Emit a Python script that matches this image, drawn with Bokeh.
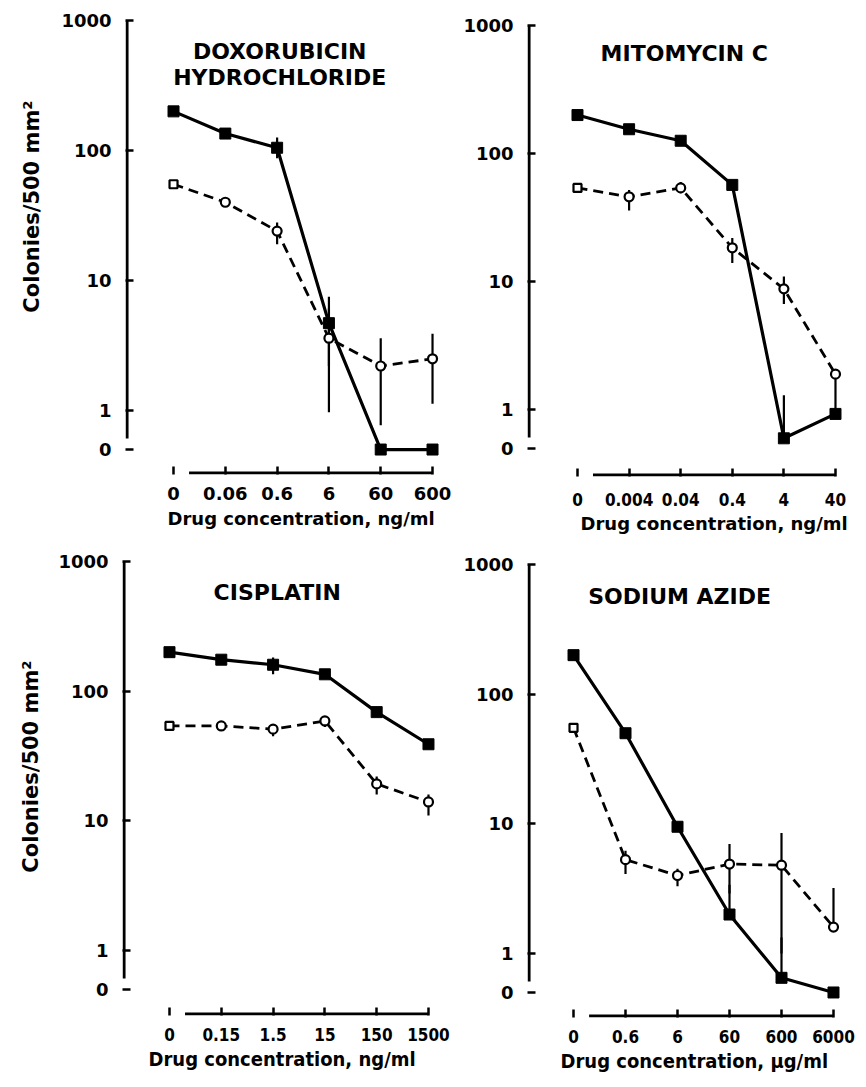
import math
from bokeh.plotting import figure
from bokeh.models import Range1d, FixedTicker, ColumnDataSource, Label, Title
from bokeh.layouts import column, row
from bokeh.embed import file_html
from bokeh.resources import INLINE

# ---------------- data ----------------
y_tick_values = [0, 1, 10, 100, 1000]
y_tick_labels = ["0", "1", "10", "100", "1000"]
y_axis_label = "Colonies/500 mm²"

doxo_title = ["DOXORUBICIN", "HYDROCHLORIDE"]
doxo_conc = ["0", "0.06", "0.6", "6", "60", "600"]
doxo_unit = "Drug concentration, ng/ml"
doxo_solid = [200, 135, 105, 4.7, 0, 0]
doxo_solid_lo = [None, None, 87, 2.2, None, None]
doxo_solid_hi = [None, None, 126, 7.5, None, None]
doxo_open = [55, 40, 24, 3.6, 2.2, 2.5]
doxo_open_lo = [None, None, 19, 0.97, 0.77, 1.13]
doxo_open_hi = [None, None, 28, 6.1, 3.6, 3.9]

mito_title = ["MITOMYCIN C"]
mito_conc = ["0", "0.004", "0.04", "0.4", "4", "40"]
mito_unit = "Drug concentration, ng/ml"
mito_solid = [200, 155, 126, 57, 0.6, 0.93]
mito_solid_lo = [None, None, None, None, 0.6, 0.93]
mito_solid_hi = [None, None, None, None, 1.3, 1.9]
mito_open = [54, 46, 54, 18.4, 8.8, 1.9]
mito_open_lo = [None, 36, 49, 14, 6.7, None]
mito_open_hi = [None, 52, 60, 22, 11, None]

cis_title = ["CISPLATIN"]
cis_conc = ["0", "0.15", "1.5", "15", "150", "1500"]
cis_unit = "Drug concentration, ng/ml"
cis_solid = [200, 175, 160, 135, 69, 39]
cis_solid_lo = [None, 165, 135, None, None, 36]
cis_solid_hi = [None, 188, 182, None, None, 42]
cis_open = [54, 54, 51, 59, 19.3, 14]
cis_open_lo = [None, None, 45, 53, 16, 11]
cis_open_hi = [None, None, 56, 64, 22, 16]

azide_title = ["SODIUM AZIDE"]
azide_conc = ["0", "0.6", "6", "60", "600", "6000"]
azide_unit = "Drug concentration, µg/ml"
azide_solid = [200, 50, 9.5, 2.0, 0.65, 0]
azide_solid_lo = [None, None, None, 2.0, 0.65, None]
azide_solid_hi = [None, None, None, 3.4, 1.33, None]
azide_open = [55, 5.3, 4.0, 4.9, 4.8, 1.6]
azide_open_lo = [None, 4.1, 3.3, 2.9, 1.0, 1.6]
azide_open_hi = [None, 6.2, 4.5, 7.0, 8.5, 3.2]

# ---------------- broken log scale ----------------
ZERO_POS = -0.3     # where a count of 0 sits, below the axis break
BREAK_POS = -0.215  # bottom end of the y-axis line


def pos(v):
    return math.log10(v) if v > 0 else ZERO_POS


FONT = "DejaVu Sans"
COND = "DejaVu Sans Condensed"


def panel(title, conc, unit, solid, s_lo, s_hi, opn, o_lo, o_hi, cfg):
    xr = cfg["xr"]
    yr = cfg["yr"]
    p = figure(width=cfg["w"], height=cfg["h"],
               x_range=Range1d(*xr), y_range=Range1d(*yr),
               output_backend="svg", toolbar_location=None, title_location=None,
               min_border_left=cfg["bl"], min_border_right=cfg["br"],
               min_border_top=cfg["bt"], min_border_bottom=cfg["bb"])
    p.grid.visible = False
    p.outline_line_color = None
    p.background_fill_color = "white"
    p.border_fill_color = "white"

    xs = list(range(len(conc)))

    for ax in (p.xaxis[0], p.yaxis[0]):
        ax.axis_line_color = None
        ax.major_tick_in = 8
        ax.major_tick_out = 0
        ax.major_tick_line_width = 2.5
        ax.major_tick_line_color = "black"
        ax.minor_tick_line_color = None
        ax.major_label_text_color = "black"
        ax.major_label_text_font_style = "bold"

    p.xaxis.ticker = FixedTicker(ticks=xs)
    p.xaxis.major_label_overrides = {i: c for i, c in enumerate(conc)}
    p.xaxis.major_label_text_font = cfg["xfont"]
    p.xaxis.major_label_text_font_size = cfg["xsize"]
    p.xaxis.major_label_standoff = cfg["tstand"]

    yt = [pos(v) for v in y_tick_values]
    p.yaxis.ticker = FixedTicker(ticks=yt)
    p.yaxis.major_label_overrides = {t: l for t, l in zip(yt, y_tick_labels)}
    p.yaxis.major_label_text_font = FONT
    p.yaxis.major_label_text_font_size = "18px"
    p.yaxis.major_label_standoff = 14

    # axis lines (broken y axis, x axis starting after the "0" tick)
    ax_x = xr[0] + 0.03
    ax_y = yr[0] + 0.012
    p.segment(x0=[ax_x], y0=[BREAK_POS], x1=[ax_x], y1=[pos(1000)],
              line_width=3, line_color="black")
    p.segment(x0=[0.3], y0=[ax_y], x1=[xs[-1]], y1=[ax_y],
              line_width=3, line_color="black")

    # error bars
    for lo, hi in ((s_lo, s_hi), (o_lo, o_hi)):
        ex = [x for x, a in zip(xs, lo) if a is not None]
        e0 = [pos(a) for a in lo if a is not None]
        e1 = [pos(b) for b in hi if b is not None]
        p.segment(x0=ex, y0=e0, x1=ex, y1=e1, line_width=2.2, line_color="black")

    # curves
    p.line(xs, [pos(v) for v in solid], line_width=3.2, line_color="black")
    p.line(xs, [pos(v) for v in opn], line_width=2.8, line_color="black",
           line_dash="10 6")

    src_s = ColumnDataSource(dict(x=xs, y=[pos(v) for v in solid]))
    p.scatter("x", "y", source=src_s, marker="square", size=11,
              fill_color="black", line_color="black")
    src_o = ColumnDataSource(dict(x=xs, y=[pos(v) for v in opn],
                                  m=["square"] + ["circle"] * (len(xs) - 1),
                                  s=[8] + [9] * (len(xs) - 1)))
    p.scatter("x", "y", source=src_o, marker="m", size="s",
              fill_color="white", line_color="black", line_width=2.2)

    for k, t in enumerate(title):
        p.add_layout(Label(x=cfg["tx"], y=cfg["ty"] - 0.2 * k, text=t,
                           text_align="center", text_baseline="middle",
                           text_font=FONT, text_font_style="bold",
                           text_font_size="22px", text_color="black"))

    p.add_layout(Title(text=unit, align="left", offset=cfg["xlo"],
                       text_font=cfg["lfont"], text_font_style="bold",
                       text_font_size=cfg["lsize"], text_color="black",
                       standoff=cfg["lstand"]), "below")
    if cfg.get("ylabel"):
        p.add_layout(Title(text=y_axis_label, align="right", offset=cfg["ylo"],
                           text_font=FONT, text_font_style="bold",
                           text_font_size="21px", text_color="black",
                           standoff=cfg["ystand"]), "left")
    return p


cfg_a = dict(w=455, h=535, xr=(-0.927, 5.154), yr=(-0.492, 3.0),
             bl=125, br=15, bt=20, bb=61, tx=2.05, ty=2.76, tstand=12,
             xfont=FONT, xsize="18px", lfont=FONT, lsize="18px", xlo=42, lstand=6,
             ylabel=True, ylo=80, ystand=29)
cfg_b = dict(w=405, h=535, xr=(-0.969, 5.291), yr=(-0.52, 3.0),
             bl=72, br=10, bt=25, bb=56, tx=2.07, ty=2.78, tstand=16,
             xfont=COND, xsize="17px", lfont=FONT, lsize="18px", xlo=53, lstand=4)
cfg_c = dict(w=455, h=545, xr=(-0.907, 5.232), yr=(-0.5, 3.0),
             bl=122, br=15, bt=26, bb=65, tx=2.08, ty=2.76, tstand=12,
             xfont=COND, xsize="17px", lfont=COND, lsize="20px", xlo=26, lstand=2,
             ylabel=True, ylo=99, ystand=26)
cfg_d = dict(w=405, h=545, xr=(-0.885, 5.327), yr=(-0.493, 3.0),
             bl=72, br=10, bt=29, bb=63, tx=2.04, ty=2.75, tstand=12,
             xfont=COND, xsize="17px", lfont=COND, lsize="20px", xlo=33, lstand=2)

pa = panel(doxo_title, doxo_conc, doxo_unit, doxo_solid, doxo_solid_lo, doxo_solid_hi,
           doxo_open, doxo_open_lo, doxo_open_hi, cfg_a)
pb = panel(mito_title, mito_conc, mito_unit, mito_solid, mito_solid_lo, mito_solid_hi,
           mito_open, mito_open_lo, mito_open_hi, cfg_b)
pc = panel(cis_title, cis_conc, cis_unit, cis_solid, cis_solid_lo, cis_solid_hi,
           cis_open, cis_open_lo, cis_open_hi, cfg_c)
pd_ = panel(azide_title, azide_conc, azide_unit, azide_solid, azide_solid_lo, azide_solid_hi,
            azide_open, azide_open_lo, azide_open_hi, cfg_d)

layout = column(row(column(pa), column(pb)), row(column(pc), column(pd_)))
open("out.html", "w").write(file_html(layout, INLINE))
